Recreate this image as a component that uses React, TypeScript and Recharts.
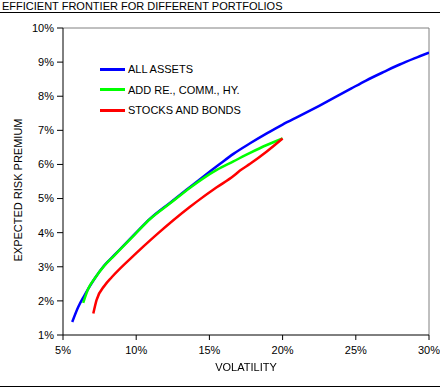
import React from 'react';
import { LineChart, Line, XAxis, YAxis, ReferenceLine } from 'recharts';

const allVol = [5.63, 6.04, 6.45, 6.73, 7.2, 7.8, 8.5, 9.93, 10.95, 12.32, 13.68, 14.6, 15.73, 16.64, 17.78, 18.92, 20.0, 21.2, 22.5, 23.5, 24.7, 25.7, 27.0, 28.0, 29.0, 30.0];
const allRet = [1.38, 1.82, 2.15, 2.36, 2.68, 3.03, 3.34, 3.97, 4.41, 4.88, 5.34, 5.65, 6.02, 6.31, 6.62, 6.91, 7.17, 7.43, 7.72, 7.95, 8.23, 8.46, 8.73, 8.93, 9.11, 9.28];

const addVol = [6.38, 6.73, 7.2, 7.8, 8.5, 9.93, 10.95, 12.32, 13.68, 14.6, 15.5, 16.64, 17.78, 18.92, 20.0];
const addRet = [1.94, 2.36, 2.68, 3.02, 3.33, 3.96, 4.4, 4.86, 5.32, 5.6, 5.84, 6.09, 6.34, 6.57, 6.76];

const sbVol = [7.07, 7.29, 7.86, 8.34, 9.93, 10.48, 11.41, 13.68, 14.14, 15.5, 16.64, 17.09, 17.78, 18.92, 20.0];
const sbRet = [1.63, 2.02, 2.46, 2.7, 3.37, 3.59, 3.95, 4.76, 4.91, 5.33, 5.66, 5.82, 6.02, 6.38, 6.76];

const xTicks = [5, 10, 15, 20, 25, 30];
const yTicks = [1, 2, 3, 4, 5, 6, 7, 8, 9, 10];

const zip = (vol: number[], ret: number[]) => vol.map((v, i) => ({ vol: v, ret: ret[i] }));

const series = [
  { name: 'ALL ASSETS', color: '#0000FF', data: zip(allVol, allRet) },
  { name: 'ADD RE., COMM., HY.', color: '#00FF00', data: zip(addVol, addRet) },
  { name: 'STOCKS AND BONDS', color: '#FF0000', data: zip(sbVol, sbRet) },
];

const font = '"Liberation Sans", Arial, sans-serif';
const tickStyle = { fontSize: 11, fill: '#000', fontFamily: font };

export default function App() {
  return (
    <div style={{ position: 'fixed', left: 0, top: 0, width: 440, height: 389, background: '#fff', fontFamily: font, color: '#000' }}>
      <div style={{ position: 'absolute', left: 2, top: 0, fontSize: 11, lineHeight: '12px' }}>
        EFFICIENT FRONTIER FOR DIFFERENT PORTFOLIOS
      </div>
      <div style={{ position: 'absolute', left: 0, top: 12, width: 440, height: 1, background: '#000' }} />
      <div style={{ position: 'absolute', left: 0, top: 386, width: 440, height: 1, background: '#000' }} />

      <LineChart width={440} height={389} margin={{ top: 28, right: 11, bottom: 34, left: 10 }} style={{ position: 'absolute', left: 0, top: 0 }}>
        <XAxis
          type="number"
          dataKey="vol"
          domain={[5, 30]}
          ticks={xTicks}
          tickFormatter={(v) => `${v}%`}
          stroke="#000"
          tickSize={5}
          tickMargin={6}
          tick={tickStyle}
          height={20}
          allowDataOverflow
        />
        <YAxis
          type="number"
          dataKey="ret"
          domain={[1, 10]}
          ticks={yTicks}
          tickFormatter={(v) => `${v}%`}
          stroke="#000"
          tickSize={6}
          tickMargin={3}
          tick={tickStyle}
          width={53}
          allowDataOverflow
        />
        <ReferenceLine y={10} stroke="#808080" />
        <ReferenceLine x={30} stroke="#808080" />
        {series.map((s) => (
          <Line
            key={s.name}
            data={s.data}
            dataKey="ret"
            name={s.name}
            type="monotone"
            stroke={s.color}
            strokeWidth={2.5}
            dot={false}
            isAnimationActive={false}
          />
        ))}
      </LineChart>

      {series.map((s, i) => (
        <div key={s.name} style={{ position: 'absolute', left: 100, top: 63 + i * 20.5, height: 12, display: 'flex', alignItems: 'center', fontSize: 11 }}>
          <div style={{ width: 25, height: 3, background: s.color, marginRight: 3 }} />
          <span>{s.name}</span>
        </div>
      ))}

      <div style={{ position: 'absolute', left: 0, width: 492, top: 361, textAlign: 'center', fontSize: 11 }}>VOLATILITY</div>
      <div
        style={{
          position: 'absolute',
          left: 18,
          top: 190,
          fontSize: 11,
          whiteSpace: 'nowrap',
          transform: 'translate(-50%, -50%) rotate(-90deg)',
        }}
      >
        EXPECTED RISK PREMIUM
      </div>
    </div>
  );
}
